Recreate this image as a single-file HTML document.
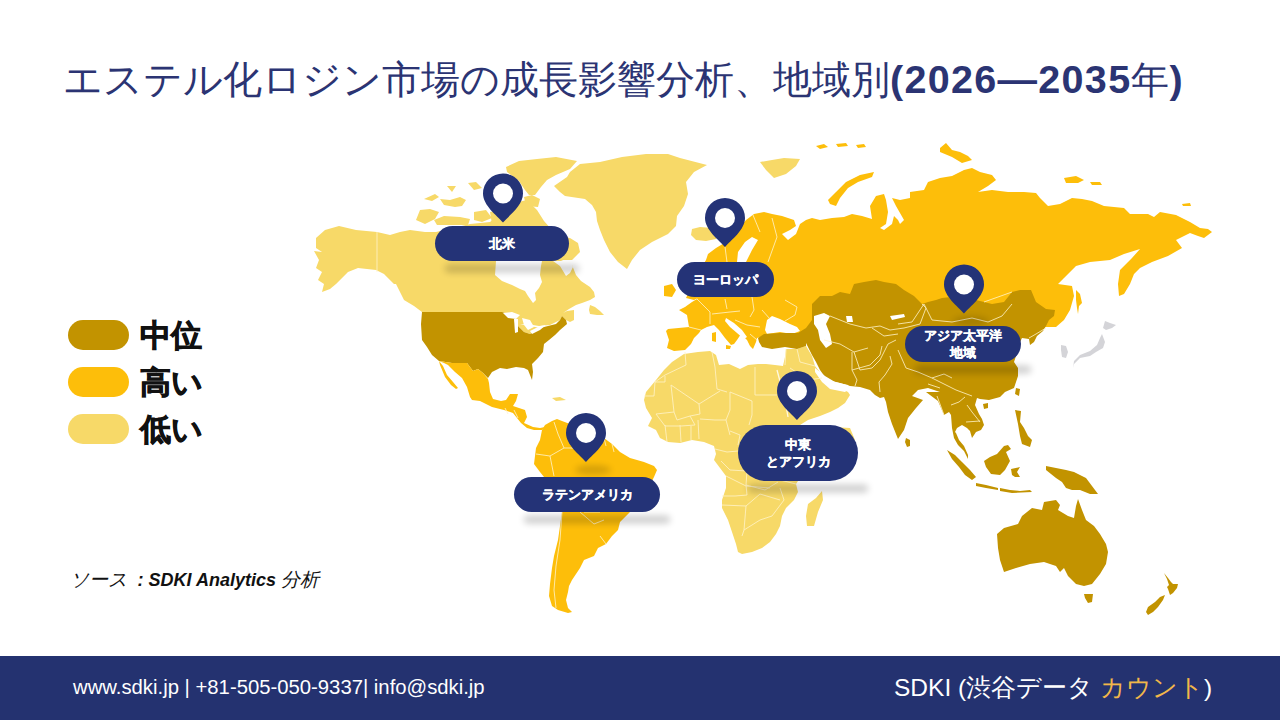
<!DOCTYPE html>
<html><head><meta charset="utf-8">
<style>
html,body{margin:0;padding:0;background:#fff;}
body{width:1280px;height:720px;position:relative;overflow:hidden;font-family:"Liberation Sans",sans-serif;}
.title{position:absolute;left:63px;top:53px;font-size:39.5px;color:#2B3473;white-space:nowrap;letter-spacing:0px;}
.title b{font-weight:bold;}
.leg{position:absolute;left:68px;width:61px;height:30px;border-radius:15px;}
.legt{position:absolute;left:140px;font-size:31px;font-weight:bold;color:#111;-webkit-text-stroke:0.8px #111;}
.src{position:absolute;left:70px;top:567px;font-size:19px;font-style:italic;color:#111;white-space:nowrap;}
.footer{position:absolute;left:0;top:656px;width:1280px;height:64px;background:#243270;}
.ftl{position:absolute;left:73px;top:676px;font-size:20.3px;color:#fff;white-space:nowrap;}
.ftr{position:absolute;left:894px;top:671px;font-size:24.5px;color:#fff;white-space:nowrap;}
.ftr span{color:#F1B74A;}
.pill{position:absolute;background:#243377;color:#fff;font-size:13px;font-weight:bold;-webkit-text-stroke:0.3px #fff;display:flex;align-items:center;justify-content:center;text-align:center;line-height:17px;}
svg{position:absolute;left:0;top:0;}
</style></head><body>
<div class="title"><span style="font-size:39px">エステル化ロジン市場の成長影響分析、地域別</span><b style="letter-spacing:1.3px">(2026—2035</b><span style="font-size:38px">年</span><b>)</b></div>
<svg width="1280" height="720" viewBox="0 0 1280 720">
<defs>
<filter id="blur" x="-50%" y="-50%" width="200%" height="200%"><feGaussianBlur stdDeviation="3"/></filter>
<filter id="blur2" x="-20%" y="-100%" width="140%" height="300%"><feGaussianBlur stdDeviation="3.5 3"/></filter>
</defs>
<g stroke="none">
<path d="M316.0,238.0 L325.0,230.0 L339.0,226.0 L356.0,230.0 L377.0,232.0 L390.0,235.0 L400.0,232.0 L410.0,230.0 L425.0,232.0 L436.0,232.0 L470.0,224.0 L490.0,222.0 L500.0,214.0 L508.0,206.0 L518.0,202.0 L527.0,200.0 L532.0,205.0 L537.0,210.0 L544.0,221.0 L552.0,230.0 L560.0,236.0 L570.0,238.0 L578.0,243.0 L580.0,252.0 L572.0,260.0 L561.0,260.0 L572.0,265.0 L576.0,275.0 L581.0,281.0 L590.0,287.0 L594.0,292.0 L595.0,297.0 L590.0,300.0 L582.0,303.0 L576.0,305.0 L569.0,309.0 L563.0,313.0 L567.0,311.0 L574.0,310.0 L574.0,320.0 L570.0,322.0 L566.0,320.0 L562.0,316.0 L560.0,320.0 L550.0,325.0 L539.0,326.0 L527.0,324.0 L520.0,324.0 L540.0,328.0 L530.0,334.0 L524.0,332.0 L518.0,326.0 L516.0,318.0 L508.0,314.0 L502.0,312.0 L422.0,312.0 L414.0,306.0 L404.0,300.0 L400.0,292.0 L396.0,284.0 L394.0,284.0 L384.0,274.0 L376.0,270.0 L358.0,268.0 L348.0,272.0 L336.0,284.0 L324.0,284.0 L318.0,280.0 L322.0,272.0 L316.0,268.0 L319.0,260.0 L314.0,251.0 L322.0,252.0 L316.0,248.0 Z" fill="#F7D968"/>
<path d="M324.0,284.0 L336.0,284.0 L330.0,289.0 L322.0,292.0 Z" fill="#F7D968"/>
<path d="M590.0,305.0 L595.0,307.0 L600.0,311.0 L604.0,315.0 L597.0,315.0 L590.0,314.0 L589.0,310.0 Z" fill="#F7D968"/>
<path d="M416.0,220.0 L420.0,210.0 L430.0,209.0 L439.0,212.0 L435.0,219.0 L425.0,224.0 Z" fill="#F7D968"/>
<path d="M434.0,220.0 L444.0,216.0 L460.0,217.0 L470.0,219.0 L468.0,225.0 L437.0,225.0 Z" fill="#F7D968"/>
<path d="M424.0,199.0 L435.0,194.0 L439.0,197.0 L432.0,201.0 Z" fill="#F7D968"/>
<path d="M440.0,199.0 L450.0,200.0 L460.0,197.0 L466.0,200.0 L462.0,206.0 L455.0,207.0 L444.0,205.0 Z" fill="#F7D968"/>
<path d="M447.0,186.0 L456.0,186.0 L452.0,192.0 Z" fill="#F7D968"/>
<path d="M468.0,183.0 L476.0,182.0 L482.0,188.0 L474.0,190.0 Z" fill="#F7D968"/>
<path d="M474.0,212.0 L486.0,210.0 L492.0,218.0 L482.0,222.0 L474.0,220.0 Z" fill="#F7D968"/>
<path d="M506.0,167.0 L519.0,161.0 L537.0,159.0 L556.0,157.0 L577.0,161.0 L570.0,169.0 L556.0,175.0 L547.0,180.0 L541.0,187.0 L535.0,195.0 L529.0,195.0 L525.0,190.0 L519.0,181.0 L507.0,172.0 Z" fill="#F7D968"/>
<path d="M524.0,197.0 L532.0,195.0 L540.0,199.0 L538.0,207.0 L526.0,206.0 Z" fill="#F7D968"/>
<path d="M490.0,212.0 L500.0,210.0 L507.0,214.0 L505.0,224.0 L492.0,224.0 Z" fill="#F7D968"/>
<path d="M496.0,261.0 L495.0,275.0 L502.0,281.0 L512.0,285.0 L520.0,289.0 L525.0,291.0 L528.0,296.0 L533.0,303.0 L536.0,300.0 L535.0,293.0 L539.0,288.0 L542.0,282.0 L540.0,275.0 L541.0,266.0 L542.0,261.0 Z" fill="#FFFFFF"/>
<path d="M553.0,261.0 L560.0,266.0 L566.0,276.0 L570.0,273.0 L573.0,267.0 L571.0,261.0 Z" fill="#FFFFFF"/>
<path d="M554.0,186.0 L567.0,177.0 L570.0,172.0 L580.0,164.0 L600.0,162.0 L622.0,157.0 L646.0,154.0 L668.0,154.0 L680.0,158.0 L707.0,165.0 L694.0,172.0 L686.0,182.0 L688.0,194.0 L684.0,206.0 L677.0,216.0 L676.0,226.0 L668.0,234.0 L652.0,242.0 L640.0,250.0 L632.0,260.0 L627.0,269.0 L618.0,262.0 L610.0,252.0 L604.0,240.0 L600.0,230.0 L597.0,221.0 L596.0,212.0 L592.0,205.0 L585.0,199.0 L565.0,196.0 L560.0,192.0 Z" fill="#F7D968"/>
<path d="M692.0,229.0 L700.0,227.0 L712.0,228.0 L718.0,232.0 L716.0,239.0 L706.0,241.0 L696.0,240.0 L691.0,235.0 Z" fill="#F7D968"/>
<path d="M760.0,162.0 L772.0,160.0 L784.0,158.0 L800.0,159.0 L796.0,166.0 L786.0,174.0 L774.0,178.0 L766.0,170.0 Z" fill="#F7D968"/>
<path d="M422.0,312.0 L502.0,312.0 L508.0,314.0 L516.0,318.0 L518.0,326.0 L524.0,332.0 L530.0,334.0 L540.0,328.0 L548.0,326.0 L556.0,324.0 L560.0,320.0 L562.0,316.0 L566.0,320.0 L567.0,324.0 L560.0,330.0 L555.0,335.0 L549.0,340.0 L544.0,344.0 L543.0,352.0 L538.0,358.0 L532.0,364.0 L533.0,372.0 L532.0,380.0 L528.0,370.0 L524.0,368.0 L516.0,367.0 L507.0,369.0 L500.0,368.0 L492.0,372.0 L488.0,378.0 L483.0,373.0 L478.0,369.0 L473.0,371.0 L467.0,363.0 L452.0,363.0 L439.0,361.0 L432.0,355.0 L427.0,347.0 L422.0,340.0 L421.0,324.0 Z" fill="#C29300"/>
<path d="M503.0,313.0 L512.0,312.0 L520.0,315.0 L516.0,319.0 L508.0,318.0 Z" fill="#FFFFFF"/>
<path d="M514.0,319.0 L518.0,319.0 L518.0,332.0 L515.0,333.0 Z" fill="#FFFFFF"/>
<path d="M522.0,318.0 L530.0,320.0 L534.0,327.0 L528.0,330.0 L524.0,325.0 Z" fill="#FFFFFF"/>
<path d="M530.0,331.0 L540.0,326.0 L546.0,325.0 L540.0,330.0 L532.0,334.0 Z" fill="#FFFFFF"/>
<path d="M439.0,361.0 L452.0,363.0 L467.0,363.0 L473.0,371.0 L478.0,369.0 L483.0,373.0 L488.0,379.0 L489.0,383.0 L490.0,392.0 L493.0,399.0 L501.0,401.0 L506.0,400.0 L510.0,394.0 L518.0,394.0 L516.0,401.0 L513.0,406.0 L525.0,410.0 L527.0,417.0 L524.0,423.0 L533.0,427.0 L540.0,428.0 L545.0,427.0 L542.0,430.0 L534.0,430.0 L527.0,428.0 L521.0,423.0 L513.0,413.0 L504.0,410.0 L492.0,407.0 L480.0,401.0 L472.0,400.0 L470.0,397.0 L467.0,387.0 L462.0,378.0 L455.0,372.0 L448.0,365.0 L444.0,363.0 Z" fill="#FDBE0A"/>
<path d="M439.0,361.0 L443.0,366.0 L447.0,375.0 L453.0,382.0 L458.0,388.0 L456.0,389.0 L451.0,385.0 L445.0,377.0 L440.0,365.0 Z" fill="#FDBE0A"/>
<path d="M552.0,398.0 L560.0,397.0 L566.0,400.0 L556.0,401.0 Z" fill="#F7D968"/>
<path d="M542.0,430.0 L545.0,425.0 L552.0,421.0 L557.0,419.0 L562.0,421.0 L570.0,424.0 L574.0,426.0 L584.0,428.0 L596.0,432.0 L604.0,438.0 L612.0,444.0 L620.0,452.0 L630.0,458.0 L644.0,462.0 L654.0,466.0 L657.0,470.0 L654.0,477.0 L650.0,485.0 L640.0,500.0 L630.0,512.0 L620.0,522.0 L618.0,530.0 L612.0,536.0 L606.0,544.0 L598.0,548.0 L594.0,556.0 L584.0,560.0 L580.0,568.0 L576.0,574.0 L572.0,580.0 L569.0,586.0 L568.0,592.0 L566.0,600.0 L568.0,608.0 L572.0,612.0 L568.0,613.0 L558.0,610.0 L552.0,606.0 L549.0,596.0 L550.0,584.0 L552.0,568.0 L554.0,556.0 L558.0,540.0 L560.0,526.0 L562.0,512.0 L556.0,500.0 L548.0,488.0 L544.0,477.0 L540.0,472.0 L534.0,464.0 L535.0,456.0 L536.0,448.0 L540.0,440.0 Z" fill="#FDBE0A"/>
<path d="M706.0,260.0 L708.0,254.0 L716.0,248.0 L726.0,242.0 L736.0,232.0 L746.0,220.0 L754.0,214.0 L764.0,212.0 L772.0,214.0 L782.0,216.0 L794.0,220.0 L796.0,226.0 L790.0,230.0 L782.0,234.0 L788.0,240.0 L796.0,234.0 L800.0,224.0 L806.0,220.0 L812.0,218.0 L820.0,220.0 L832.0,218.0 L844.0,217.0 L852.0,214.0 L862.0,216.0 L872.0,219.0 L870.0,206.0 L876.0,196.0 L884.0,194.0 L886.0,200.0 L888.0,212.0 L886.0,224.0 L880.0,228.0 L884.0,230.0 L892.0,224.0 L894.0,216.0 L898.0,220.0 L900.0,224.0 L904.0,220.0 L896.0,206.0 L892.0,198.0 L900.0,200.0 L910.0,198.0 L910.0,192.0 L924.0,190.0 L928.0,182.0 L940.0,178.0 L952.0,176.0 L964.0,170.0 L972.0,168.0 L980.0,172.0 L992.0,175.0 L996.0,180.0 L988.0,186.0 L978.0,192.0 L992.0,190.0 L1008.0,192.0 L1024.0,192.0 L1036.0,193.0 L1040.0,198.0 L1048.0,206.0 L1060.0,204.0 L1072.0,198.0 L1082.0,199.0 L1092.0,201.0 L1104.0,206.0 L1124.0,208.0 L1130.0,214.0 L1148.0,214.0 L1154.0,217.0 L1160.0,212.0 L1176.0,215.0 L1190.0,222.0 L1200.0,228.0 L1208.0,229.0 L1212.0,232.0 L1204.0,238.0 L1198.0,236.0 L1190.0,233.0 L1180.0,238.0 L1176.0,240.0 L1182.0,248.0 L1168.0,256.0 L1152.0,262.0 L1140.0,268.0 L1134.0,274.0 L1130.0,284.0 L1124.0,294.0 L1119.0,296.0 L1118.0,284.0 L1120.0,270.0 L1132.0,258.0 L1140.0,249.0 L1124.0,254.0 L1110.0,260.0 L1090.0,262.0 L1076.0,266.0 L1064.0,278.0 L1058.0,284.0 L1072.0,286.0 L1074.0,296.0 L1070.0,310.0 L1064.0,320.0 L1056.0,327.0 L1046.0,327.0 L1000.0,330.0 L900.0,330.0 L830.0,322.0 L814.0,330.0 L801.0,336.0 L764.0,336.0 L757.0,338.0 L756.0,342.0 L753.0,349.0 L750.0,346.0 L747.0,340.0 L741.0,334.0 L737.0,340.0 L734.0,344.0 L731.0,345.0 L725.0,338.0 L719.0,330.0 L714.0,325.0 L707.0,327.0 L701.0,330.0 L699.0,333.0 L694.0,338.0 L691.0,344.0 L685.0,350.0 L674.0,351.0 L667.0,348.0 L669.0,340.0 L666.0,331.0 L668.0,329.0 L689.0,327.0 L687.0,315.0 L679.0,310.0 L685.0,307.0 L692.0,302.0 L697.0,299.0 L700.0,290.0 L700.0,270.0 Z" fill="#FDBE0A"/>
<path d="M686.0,278.0 L694.0,276.0 L700.0,284.0 L702.0,296.0 L694.0,300.0 L686.0,298.0 L690.0,290.0 Z" fill="#FDBE0A"/>
<path d="M664.0,286.0 L672.0,284.0 L676.0,290.0 L672.0,297.0 L664.0,296.0 Z" fill="#FDBE0A"/>
<path d="M1076.0,290.0 L1080.0,294.0 L1082.0,303.0 L1079.0,306.0 L1078.0,314.0 L1077.0,308.0 L1076.0,300.0 Z" fill="#FDBE0A"/>
<path d="M828.0,200.0 L836.0,192.0 L846.0,182.0 L860.0,175.0 L874.0,172.0 L872.0,177.0 L858.0,182.0 L848.0,188.0 L840.0,198.0 L836.0,206.0 L830.0,204.0 Z" fill="#FDBE0A"/>
<path d="M940.0,148.0 L946.0,143.0 L952.0,150.0 L960.0,152.0 L968.0,156.0 L972.0,160.0 L962.0,163.0 L952.0,157.0 L940.0,152.0 Z" fill="#FDBE0A"/>
<path d="M816.0,146.0 L824.0,144.0 L828.0,147.0 L820.0,149.0 Z" fill="#FDBE0A"/>
<path d="M836.0,144.0 L846.0,143.0 L848.0,146.0 L838.0,147.0 Z" fill="#FDBE0A"/>
<path d="M856.0,145.0 L864.0,144.0 L866.0,147.0 L858.0,148.0 Z" fill="#FDBE0A"/>
<path d="M1064.0,178.0 L1076.0,176.0 L1084.0,180.0 L1078.0,183.0 L1066.0,183.0 Z" fill="#FDBE0A"/>
<path d="M1090.0,182.0 L1100.0,182.0 L1102.0,185.0 L1092.0,185.0 Z" fill="#FDBE0A"/>
<path d="M1182.0,204.0 L1190.0,203.0 L1191.0,206.0 L1183.0,206.0 Z" fill="#FDBE0A"/>
<path d="M726.0,318.0 L734.0,323.0 L742.0,330.0 L747.0,337.0 L744.0,339.0 L737.0,333.0 L730.0,327.0 L725.0,321.0 Z" fill="#FFFFFF"/>
<path d="M726.0,345.0 L731.0,346.0 L730.0,349.0 L726.0,349.0 Z" fill="#FDBE0A"/>
<path d="M712.0,333.0 L716.0,332.0 L716.0,342.0 L712.0,341.0 Z" fill="#FDBE0A"/>
<path d="M737.0,262.0 L738.0,252.0 L745.0,242.0 L752.0,237.0 L758.0,240.0 L752.0,250.0 L746.0,262.0 Z" fill="#FFFFFF"/>
<path d="M767.0,320.0 L772.0,316.0 L780.0,319.0 L790.0,324.0 L797.0,327.0 L800.0,331.0 L792.0,334.0 L780.0,332.0 L767.0,334.0 L765.0,330.0 Z" fill="#FFFFFF"/>
<path d="M664.0,370.0 L672.0,362.0 L684.0,354.0 L698.0,352.0 L710.0,351.0 L716.0,355.0 L719.0,365.0 L729.0,364.0 L740.0,369.0 L748.0,365.0 L758.0,364.0 L766.0,364.0 L775.0,365.0 L783.0,366.0 L785.0,357.0 L786.0,349.0 L792.0,349.0 L797.0,349.0 L806.0,346.0 L812.0,356.0 L815.0,366.0 L819.0,371.0 L822.0,378.0 L830.0,384.0 L840.0,388.0 L848.0,392.0 L850.0,395.0 L845.0,403.0 L838.0,408.0 L830.0,412.0 L820.0,416.0 L808.0,420.0 L800.0,425.0 L850.0,428.0 L855.0,440.0 L830.0,462.0 L800.0,478.0 L796.0,484.0 L798.0,492.0 L794.0,500.0 L786.0,508.0 L782.0,516.0 L780.0,526.0 L776.0,534.0 L770.0,542.0 L762.0,548.0 L752.0,552.0 L742.0,554.0 L738.0,552.0 L736.0,544.0 L732.0,532.0 L728.0,520.0 L722.0,508.0 L722.0,500.0 L726.0,488.0 L726.0,476.0 L720.0,468.0 L714.0,460.0 L716.0,454.0 L714.0,446.0 L704.0,442.0 L692.0,440.0 L680.0,443.0 L668.0,442.0 L660.0,438.0 L656.0,430.0 L648.0,426.0 L652.0,418.0 L646.0,408.0 L644.0,400.0 L646.0,392.0 L656.0,380.0 Z" fill="#F7D968"/>
<path d="M822.0,491.0 L823.0,500.0 L818.0,512.0 L814.0,526.0 L807.0,526.0 L806.0,516.0 L808.0,504.0 L816.0,498.0 Z" fill="#F7D968"/>
<path d="M758.0,338.0 L764.0,334.0 L780.0,333.0 L798.0,333.0 L806.0,328.0 L812.0,320.0 L812.0,304.0 L820.0,296.0 L832.0,296.0 L840.0,292.0 L850.0,294.0 L854.0,284.0 L864.0,282.0 L876.0,280.0 L884.0,282.0 L896.0,284.0 L904.0,290.0 L914.0,296.0 L922.0,304.0 L928.0,302.0 L936.0,300.0 L942.0,298.0 L960.0,296.0 L984.0,302.0 L992.0,304.0 L1004.0,302.0 L1012.0,292.0 L1020.0,290.0 L1031.0,290.0 L1036.0,302.0 L1046.0,309.0 L1055.0,310.0 L1054.0,316.0 L1049.0,320.0 L1046.0,326.0 L1043.0,331.0 L1037.0,336.0 L1034.0,342.0 L1030.0,345.0 L1029.0,339.0 L1022.0,338.0 L1020.0,342.0 L1018.0,350.0 L1014.0,362.0 L1018.0,368.0 L1018.0,376.0 L1014.0,388.0 L1005.0,392.0 L1000.0,397.0 L989.0,400.0 L980.0,399.0 L977.0,398.0 L975.0,405.0 L979.0,414.0 L982.0,419.0 L984.0,425.0 L981.0,430.0 L976.0,432.0 L972.0,438.0 L970.0,431.0 L967.0,428.0 L962.0,425.0 L957.0,428.0 L955.0,432.0 L956.0,433.0 L959.0,440.0 L964.0,446.0 L968.0,455.0 L968.0,459.0 L964.0,451.0 L958.0,445.0 L954.0,438.0 L952.0,428.0 L951.0,415.0 L949.0,412.0 L944.0,415.0 L938.0,401.0 L934.0,398.0 L930.0,395.0 L926.0,392.0 L940.0,392.0 L928.0,388.0 L918.0,390.0 L912.0,396.0 L923.0,400.0 L916.0,408.0 L908.0,418.0 L904.0,430.0 L898.0,439.0 L892.0,424.0 L888.0,412.0 L886.0,402.0 L884.0,397.0 L880.0,398.0 L875.0,395.0 L870.0,390.0 L860.0,387.0 L850.0,386.0 L840.0,383.0 L832.0,381.0 L825.0,377.0 L820.0,370.0 L816.0,362.0 L812.0,355.0 L806.0,343.0 L806.0,346.0 L797.0,349.0 L785.0,347.0 L772.0,349.0 L762.0,347.0 L759.0,342.0 Z" fill="#C29300"/>
<path d="M815.0,368.0 L825.0,376.0 L835.0,382.0 L848.0,385.0 L850.0,388.0 L845.0,392.0 L830.0,389.0 L822.0,382.0 L815.0,372.0 Z" fill="#FFFFFF"/>
<path d="M814.0,316.0 L824.0,313.0 L830.0,316.0 L826.0,324.0 L830.0,334.0 L832.0,344.0 L826.0,348.0 L820.0,340.0 L818.0,330.0 L814.0,324.0 Z" fill="#FFFFFF"/>
<path d="M846.0,316.0 L852.0,316.0 L853.0,322.0 L847.0,322.0 Z" fill="#FFFFFF"/>
<path d="M890.0,316.0 L904.0,314.0 L905.0,317.0 L892.0,320.0 Z" fill="#FFFFFF"/>
<path d="M906.0,438.0 L910.0,440.0 L910.0,446.0 L907.0,447.0 L905.0,442.0 Z" fill="#C29300"/>
<path d="M1016.0,388.0 L1020.0,389.0 L1019.0,396.0 L1015.0,394.0 Z" fill="#C29300"/>
<path d="M983.0,404.0 L988.0,403.0 L988.0,408.0 L984.0,409.0 Z" fill="#C29300"/>
<path d="M947.0,450.0 L955.0,455.0 L962.0,462.0 L970.0,470.0 L976.0,477.0 L972.0,480.0 L965.0,475.0 L959.0,467.0 L952.0,459.0 Z" fill="#C29300"/>
<path d="M976.0,483.0 L986.0,485.0 L998.0,488.0 L998.0,490.0 L986.0,488.0 L976.0,486.0 Z" fill="#C29300"/>
<path d="M984.0,461.0 L990.0,457.0 L997.0,454.0 L1004.0,446.0 L1008.0,445.0 L1011.0,449.0 L1006.0,452.0 L1010.0,461.0 L1005.0,470.0 L1000.0,475.0 L991.0,474.0 L986.0,467.0 Z" fill="#C29300"/>
<path d="M1011.0,469.0 L1020.0,467.0 L1017.0,472.0 L1020.0,477.0 L1015.0,477.0 L1012.0,475.0 Z" fill="#C29300"/>
<path d="M1015.0,410.0 L1021.0,411.0 L1020.0,422.0 L1024.0,428.0 L1028.0,436.0 L1032.0,440.0 L1030.0,447.0 L1022.0,444.0 L1020.0,436.0 L1018.0,424.0 Z" fill="#C29300"/>
<path d="M1046.0,466.0 L1056.0,468.0 L1066.0,470.0 L1074.0,472.0 L1086.0,478.0 L1098.0,494.0 L1090.0,494.0 L1080.0,490.0 L1072.0,490.0 L1066.0,488.0 L1062.0,482.0 L1056.0,478.0 L1046.0,470.0 Z" fill="#C29300"/>
<path d="M1000.0,488.0 L1010.0,490.0 L1020.0,491.0 L1030.0,490.0 L1032.0,492.0 L1012.0,493.0 L1000.0,491.0 Z" fill="#C29300"/>
<path d="M997.0,534.0 L1004.0,528.0 L1018.0,524.0 L1022.0,516.0 L1032.0,508.0 L1042.0,510.0 L1044.0,502.0 L1056.0,500.0 L1060.0,505.0 L1058.0,510.0 L1068.0,516.0 L1074.0,518.0 L1076.0,506.0 L1078.0,499.0 L1082.0,510.0 L1086.0,520.0 L1094.0,526.0 L1100.0,534.0 L1106.0,544.0 L1108.0,552.0 L1106.0,564.0 L1100.0,574.0 L1092.0,584.0 L1084.0,586.0 L1076.0,584.0 L1068.0,576.0 L1064.0,568.0 L1060.0,572.0 L1056.0,566.0 L1044.0,562.0 L1030.0,564.0 L1016.0,568.0 L1004.0,572.0 L1000.0,560.0 L998.0,548.0 Z" fill="#C29300"/>
<path d="M1084.0,594.0 L1093.0,594.0 L1092.0,602.0 L1088.0,603.0 L1085.0,598.0 Z" fill="#C29300"/>
<path d="M1164.0,573.0 L1168.0,578.0 L1171.0,582.0 L1173.0,584.0 L1178.0,584.0 L1177.0,588.0 L1173.0,593.0 L1170.0,595.0 L1168.0,589.0 L1167.0,587.0 L1169.0,585.0 L1167.0,579.0 Z" fill="#C29300"/>
<path d="M1165.0,595.0 L1163.0,600.0 L1158.0,607.0 L1153.0,612.0 L1148.0,615.0 L1146.0,612.0 L1148.0,607.0 L1155.0,602.0 L1160.0,597.0 Z" fill="#C29300"/>
<path d="M1105.0,321.0 L1110.0,323.0 L1116.0,325.0 L1112.0,328.0 L1106.0,330.0 L1103.0,328.0 Z" fill="#D4D4D8"/>
<path d="M1102.0,334.0 L1105.0,342.0 L1103.0,348.0 L1096.0,352.0 L1090.0,356.0 L1080.0,358.0 L1074.0,364.0 L1073.0,368.0 L1074.0,361.0 L1080.0,355.0 L1090.0,351.0 L1097.0,345.0 L1100.0,338.0 Z" fill="#D4D4D8"/>
<path d="M1061.0,345.0 L1066.0,346.0 L1068.0,352.0 L1066.0,358.0 L1062.0,357.0 L1061.0,350.0 Z" fill="#D4D4D8"/>
</g>
<polyline points="777,370 781,385 785,400 788,417" fill="none" stroke="#FFF8E0" stroke-width="1.3"/><g fill="none" stroke="#FFF3C8" stroke-width="0.9" stroke-linejoin="round" opacity="0.9"><polyline points="685,352 686,365 665,375 655,382"/>
<polyline points="665,376 665,382 655,382 654,396 644,396"/>
<polyline points="671,385 674,412 656,414"/>
<polyline points="671,385 699,404 720,391"/>
<polyline points="712,352 715,367 717,389 727,392"/>
<polyline points="755,367 755,395 777,395"/>
<polyline points="730,392 752,401 752,415 749,425"/>
<polyline points="730,392 730,410 726,420 730,435"/>
<polyline points="699,404 700,414 690,416 677,420 674,412"/>
<polyline points="700,419 715,420 726,420"/>
<polyline points="690,416 695,425 681,426 665,426 656,414"/>
<polyline points="665,425 667,442"/>
<polyline points="680,425 681,442"/>
<polyline points="691,426 691,440"/>
<polyline points="698,420 699,439"/>
<polyline points="730,431 740,435 738,445"/>
<polyline points="715,449 727,452 738,451"/>
<polyline points="721,461 730,470 747,471 746,485 747,495 735,496 722,496"/>
<polyline points="746,485 765,490 778,482"/>
<polyline points="722,505 746,506 744,530"/>
<polyline points="742,536 744,530 760,520 772,516"/>
<polyline points="746,506 760,494 780,500"/>
<polyline points="772,516 784,500 780,488"/>
<polyline points="726,476 746,486 770,488"/>
<polyline points="780,480 796,484"/>
<polyline points="785,365 786,349"/>
<polyline points="797,349 800,362 815,366"/>
<polyline points="790,368 808,380 822,378"/>
<polyline points="689,327 701,330"/>
<polyline points="697,299 710,312 710,324"/>
<polyline points="712,314 730,312 740,311"/>
<polyline points="725,299 727,309"/>
<polyline points="752,297 754,310 750,317"/>
<polyline points="785,300 797,307 795,315 785,321"/>
<polyline points="762,310 770,319"/>
<polyline points="735,320 747,325 760,327"/>
<polyline points="750,334 757,340"/>
<polyline points="725,247 727,262"/>
<polyline points="753,215 760,232"/>
<polyline points="772,218 777,237 768,262"/>
<polyline points="830,316 840,320 850,324 866,328 880,326 890,330 904,328 920,324 926,308 922,304"/>
<polyline points="824,340 840,344 854,352 868,348"/>
<polyline points="854,352 860,370 872,368 880,360 888,344 896,340"/>
<polyline points="890,356 892,364 885,375 879,382 880,392"/>
<polyline points="852,352 852,370 857,380 855,386"/>
<polyline points="852,370 870,365 880,355 882,346"/>
<polyline points="898,350 906,368 918,372 932,378 944,374 952,378"/>
<polyline points="924,304 932,320 952,322 972,318 988,322 1002,316 1012,304"/>
<polyline points="898,324 912,322 924,304"/>
<polyline points="872,328 884,336 898,334"/>
<polyline points="932,378 944,384 956,390 972,396"/>
<polyline points="937,396 944,415"/>
<polyline points="951,405 959,402 965,397"/>
<polyline points="967,405 972,412 980,422"/>
<polyline points="966,422 980,421"/>
<polyline points="928,384 940,388"/>
<polyline points="1029,338 1036,334 1046,328"/>
<polyline points="984,302 1012,292"/>
<polyline points="554,422 558,434 564,448"/>
<polyline points="564,448 580,448 596,444"/>
<polyline points="536,454 550,456 564,448"/>
<polyline points="550,456 554,476"/>
<polyline points="562,512 560,540 556,566 554,590 556,608"/>
<polyline points="580,512 594,524 604,520"/>
<polyline points="600,536 606,544"/>
<polyline points="584,512 600,512"/>
<polyline points="604,438 606,446"/>
<polyline points="612,444 614,452"/>
<polyline points="377,232 377,272"/>
<polyline points="505,408 508,414"/>
<polyline points="514,410 518,418"/></g>
<ellipse cx="971" cy="321.5" rx="18" ry="5" fill="#000" opacity="0.15" filter="url(#blur)"/>
<ellipse cx="593" cy="470" rx="18" ry="5" fill="#000" opacity="0.15" filter="url(#blur)"/>
<rect x="445" y="264" width="134" height="9" rx="4" fill="#000" opacity="0.17" filter="url(#blur2)"/><rect x="915" y="365" width="116" height="9" rx="4" fill="#000" opacity="0.17" filter="url(#blur2)"/><rect x="748" y="484" width="120" height="9" rx="4" fill="#000" opacity="0.17" filter="url(#blur2)"/><rect x="524" y="515" width="146" height="9" rx="4" fill="#000" opacity="0.17" filter="url(#blur2)"/>
<path d="M503,222.5 C497,215.5 483,205.5 483,193.5 A20,20 0 1 1 523,193.5 C523,205.5 509,215.5 503,222.5 Z" fill="#243377"/><circle cx="503" cy="193.5" r="10" fill="#fff"/>
<path d="M725,247 C719,240 705,230 705,218 A20,20 0 1 1 745,218 C745,230 731,240 725,247 Z" fill="#243377"/><circle cx="725" cy="218" r="10" fill="#fff"/>
<path d="M964,313.5 C958,306.5 944,296.5 944,284.5 A20,20 0 1 1 984,284.5 C984,296.5 970,306.5 964,313.5 Z" fill="#243377"/><circle cx="964" cy="284.5" r="10" fill="#fff"/>
<path d="M797,420 C791,413 777,403 777,391 A20,20 0 1 1 817,391 C817,403 803,413 797,420 Z" fill="#243377"/><circle cx="797" cy="391" r="10" fill="#fff"/>
<path d="M586,462 C580,455 566,445 566,433 A20,20 0 1 1 606,433 C606,445 592,455 586,462 Z" fill="#243377"/><circle cx="586" cy="433" r="10" fill="#fff"/>
</svg>
<div class="pill" style="left:435px;top:226px;width:134px;height:35px;border-radius:17.5px"><span>北米</span></div><div class="pill" style="left:677px;top:262px;width:97px;height:35px;border-radius:17.5px"><span>ヨーロッパ</span></div><div class="pill" style="left:905px;top:326px;width:116px;height:36px;border-radius:18.0px"><span>アジア太平洋<br>地域</span></div><div class="pill" style="left:738px;top:425px;width:120px;height:56px;border-radius:28.0px"><span>中東<br>とアフリカ</span></div><div class="pill" style="left:514px;top:477px;width:146px;height:35px;border-radius:17.5px"><span>ラテンアメリカ</span></div>
<div class="leg" style="top:320px;background:#C29300"></div><div class="legt" style="top:315px">中位</div>
<div class="leg" style="top:367px;background:#FDBE0A"></div><div class="legt" style="top:362px">高い</div>
<div class="leg" style="top:414px;background:#F7D968"></div><div class="legt" style="top:409px">低い</div>
<div class="src">ソース&nbsp; <b style="font-size:18px">: SDKI Analytics</b> 分析</div>
<div class="footer"></div>
<div class="ftl">www.sdki.jp | +81-505-050-9337| info@sdki.jp</div>
<div class="ftr">SDKI (渋谷データ <span>カウント</span>)</div>
</body></html>
